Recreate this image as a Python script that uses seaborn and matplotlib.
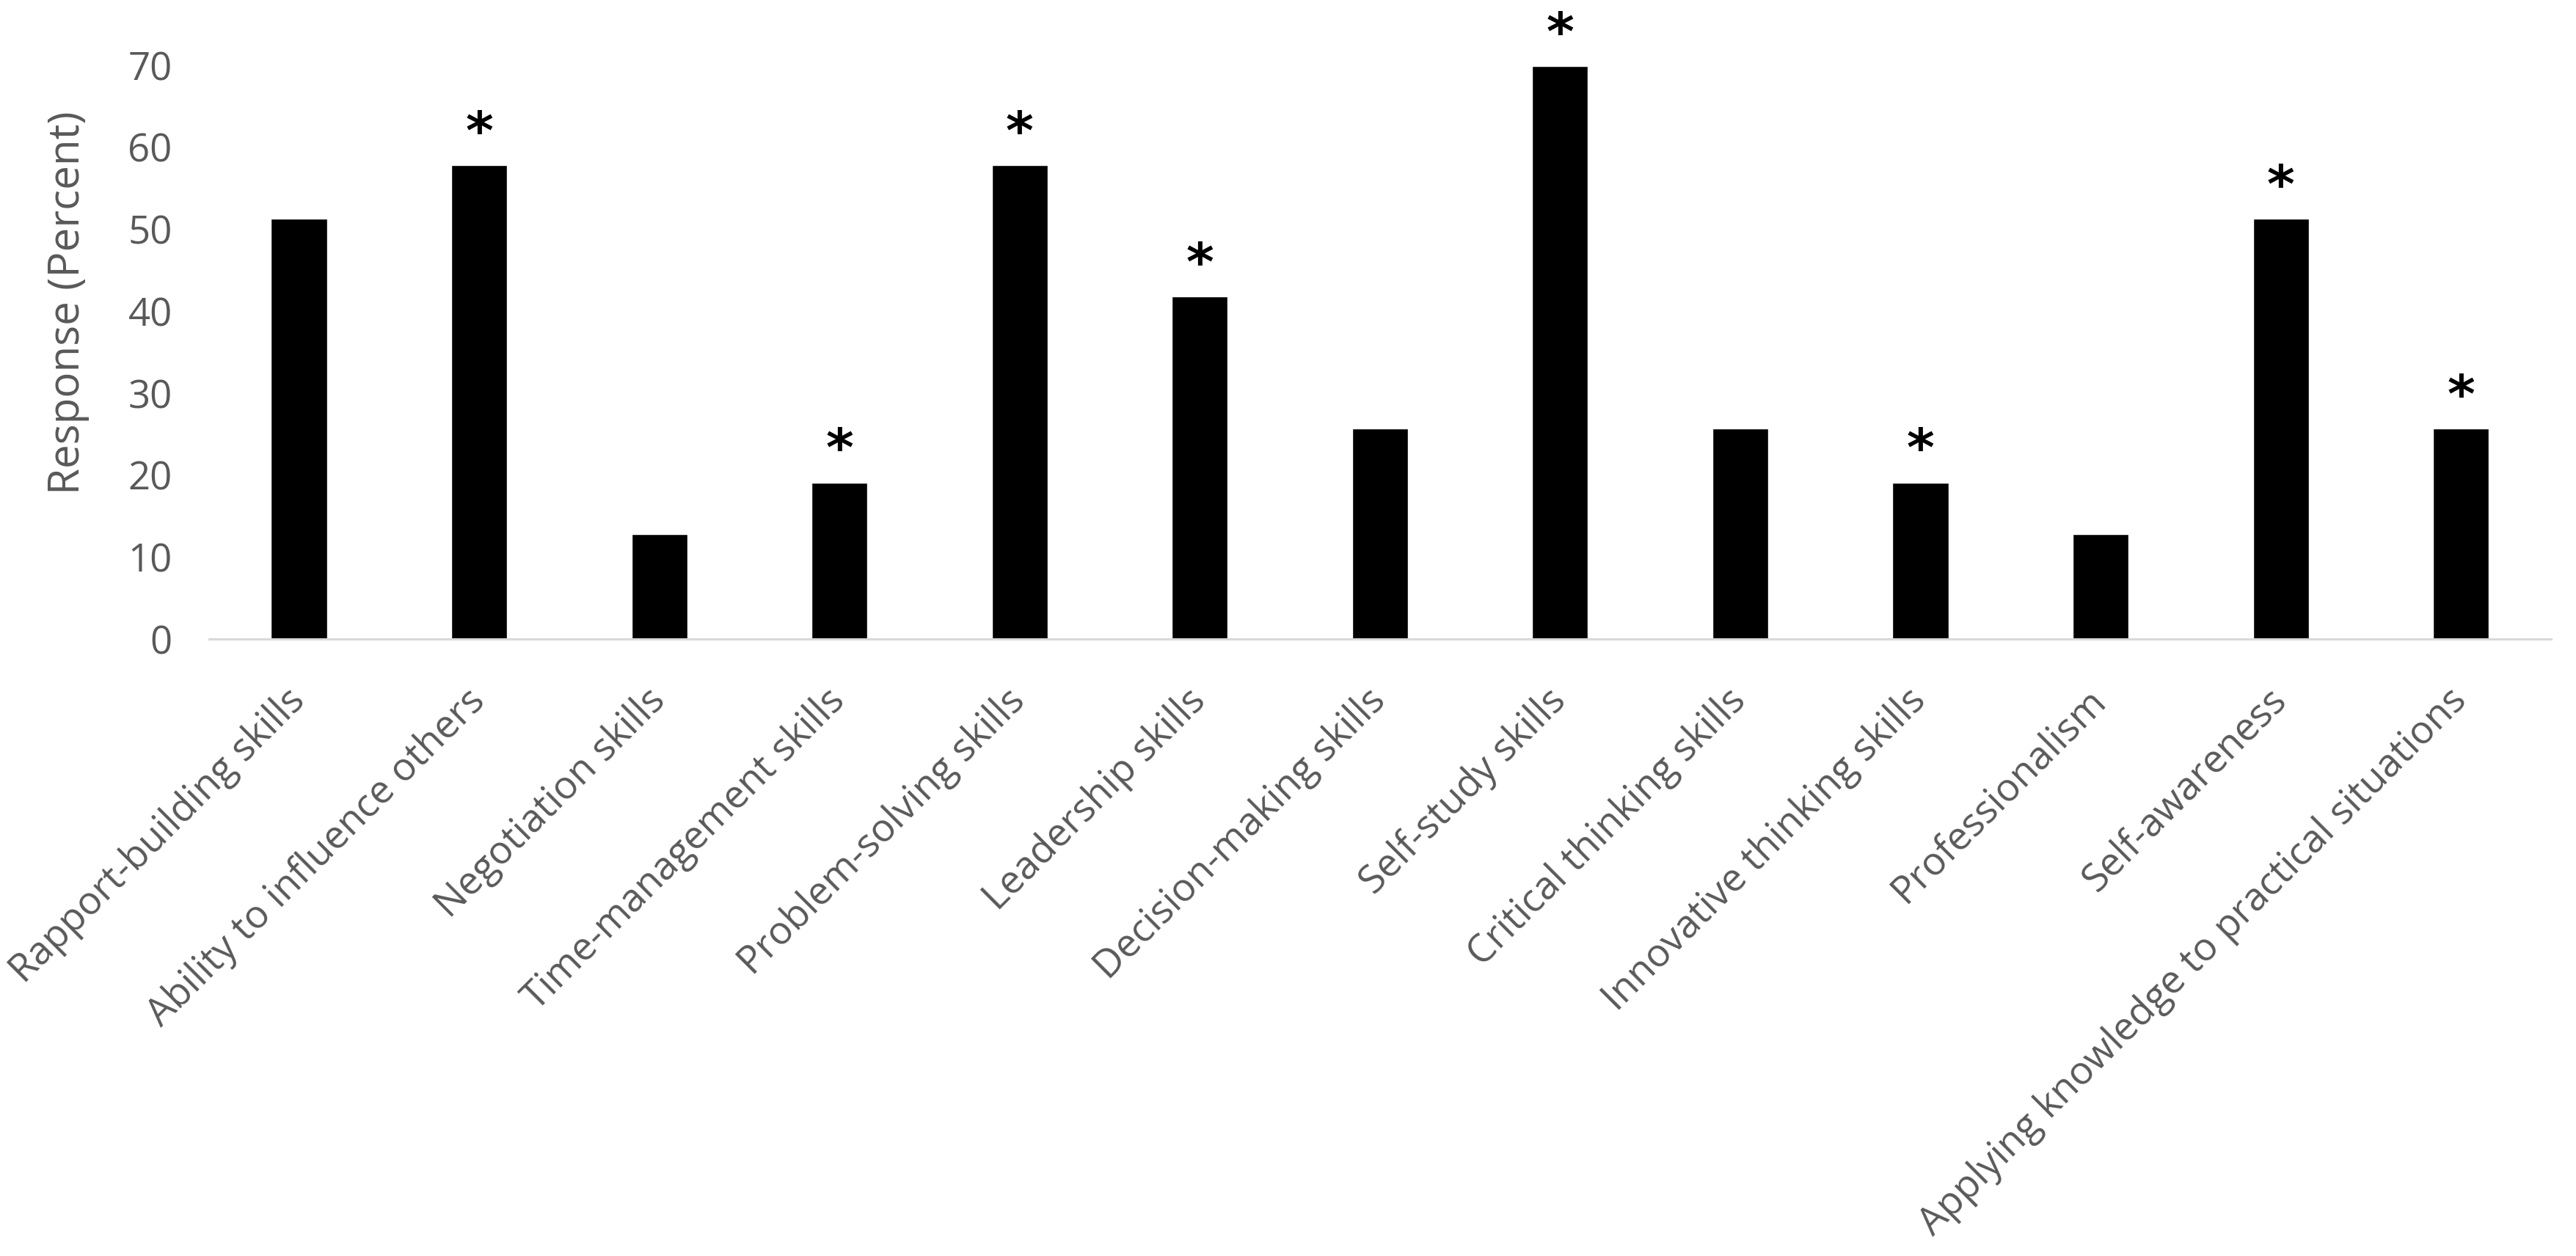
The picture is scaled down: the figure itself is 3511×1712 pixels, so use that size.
import matplotlib
matplotlib.use('Agg')
import matplotlib.pyplot as plt
import pandas as pd
import seaborn as sns

skills = ['Rapport-building skills', 'Ability to influence others', 'Negotiation skills',
          'Time-management skills', 'Problem-solving skills', 'Leadership skills',
          'Decision-making skills', 'Self-study skills', 'Critical thinking skills',
          'Innovative thinking skills', 'Professionalism', 'Self-awareness',
          'Applying knowledge to practical situations']
percent = [51.3, 57.8, 12.8, 19.1, 57.8, 41.8, 25.7, 69.9, 25.7, 19.1, 12.8, 51.3, 25.7]
significant = [False, True, False, True, True, True, False, True, False, True, False, True, True]
yticks = [0, 10, 20, 30, 40, 50, 60, 70]

df = pd.DataFrame({'Skill': skills, 'Percent': percent})

sns.set_style('white')
plt.rcParams['font.family'] = ['Open Sans', 'DejaVu Sans']
grey = '#595959'

fig = plt.figure(figsize=(35.11, 17.12), dpi=100)
ax = fig.add_axes([0.0811, 0.4912, 0.9092, 0.4568])
sns.barplot(data=df, x='Skill', y='Percent', color='black', width=0.31, saturation=1, ax=ax)

# significance markers
for i, (v, s) in enumerate(zip(percent, significant)):
    if s:
        ax.text(i, v + 2.0, '*', ha='center', va='baseline', fontsize=52, fontweight='bold',
                family='DejaVu Sans', color='black', clip_on=False)

ax.set_ylim(0, 70)
ax.set_yticks(yticks)
ax.set_xlim(-0.5, len(skills) - 0.5)
sns.despine(ax=ax, left=True)
ax.spines['bottom'].set_color('#d9d9d9')
ax.spines['bottom'].set_linewidth(2.2)

ax.tick_params(axis='both', length=0, labelsize=38, colors=grey)
ax.tick_params(axis='y', pad=36)
ax.tick_params(axis='x', pad=55)
plt.setp(ax.get_xticklabels(), rotation=45, ha='right', va='center', rotation_mode='anchor')

ax.set_xlabel('')
ax.set_ylabel('Response (Percent)', fontsize=42, color=grey)
ax.yaxis.set_label_coords(-0.051, 0.586)

fig.savefig('out.png', dpi=100)
